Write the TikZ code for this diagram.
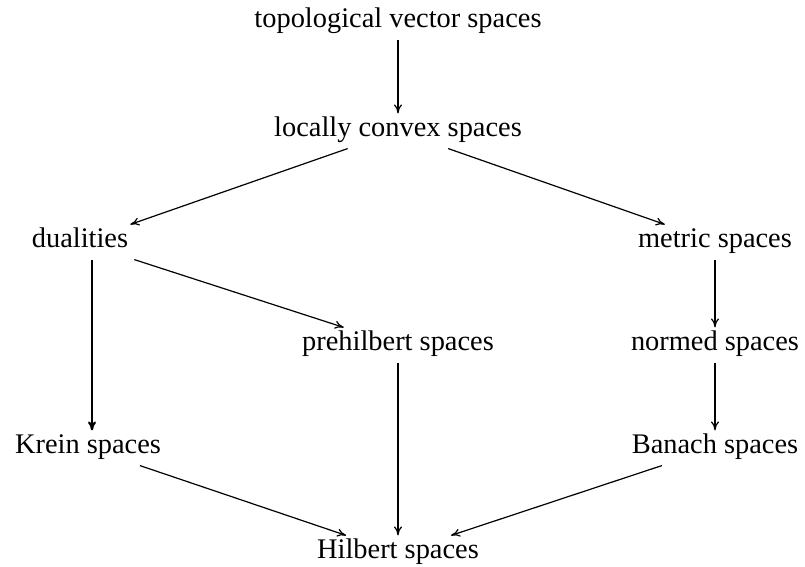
\documentclass[tikz,border=0pt]{standalone}
\usepackage{fontspec}
\setmainfont{Liberation Serif}
\usetikzlibrary{arrows.meta}
\begin{document}
\begin{tikzpicture}[x=0.5pt,y=-0.5pt,
    space/.style={font=\fontsize{14.2}{16}\selectfont, inner sep=4pt,
        text height=1.6ex, text depth=.4ex},
    imp/.style={-{To[length=4.5pt,width=4pt]}, line width=0.6pt},
    strong/.style={-{To[length=4.5pt,width=4pt]}, line width=1.1pt}]
\useasboundingbox (0,0) rectangle (805,567);

% the spaces
\node[space] (tvs)   at (398, 22)  {topological vector spaces};
\node[space] (lcs)   at (398, 131) {locally convex spaces};
\node[space] (dual)  at (80, 242)  {dualities};
\node[space] (metr)  at (715, 242) {metric spaces};
\node[space] (preh)  at (398, 345) {prehilbert spaces};
\node[space] (norm)  at (715, 345) {normed spaces};
\node[space] (krein) at (88, 448)  {Krein spaces};
\node[space] (ban)   at (715, 448) {Banach spaces};
\node[space] (hilb)  at (398, 553) {Hilbert spaces};

% implications
\draw[imp] (tvs) -- (lcs);
\draw[imp] (lcs) -- (dual);
\draw[imp] (lcs) -- (metr);
\draw[imp] (dual) -- (preh);
\draw[strong] (dual.south -| 92,0) -- (krein.north -| 92,0);
\draw[imp] (metr) -- (norm);
\draw[imp] (preh) -- (hilb);
\draw[imp] (norm) -- (ban);
\draw[imp] (krein) -- (hilb);
\draw[imp] (ban) -- (hilb);

\end{tikzpicture}
\end{document}
